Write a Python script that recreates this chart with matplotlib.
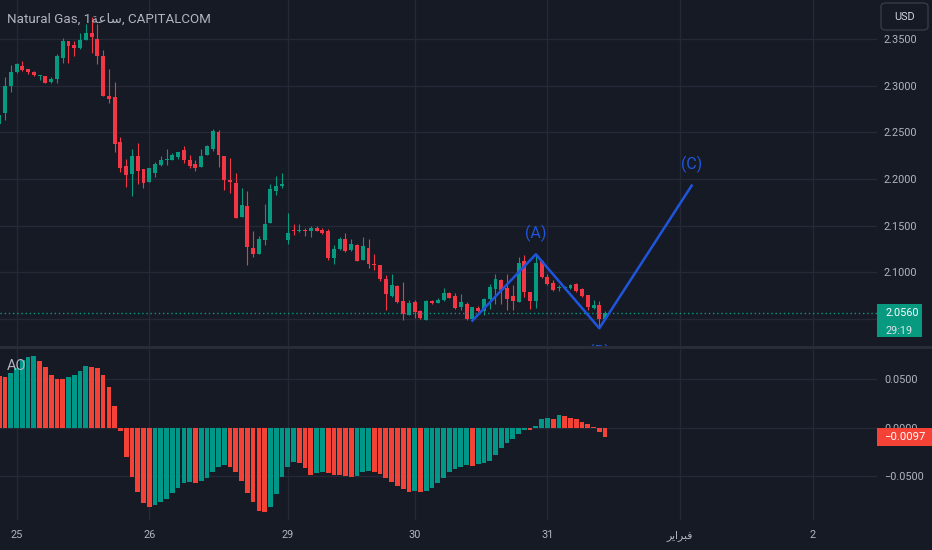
import numpy as np
import matplotlib
matplotlib.use('Agg')
import matplotlib.pyplot as plt
import matplotlib.transforms as mtransforms
from matplotlib.patches import Rectangle, FancyBboxPatch
from matplotlib.lines import Line2D

plt.rcParams['font.family'] = ['Roboto', 'DejaVu Sans']

# Natural Gas, 1h candles (CAPITALCOM)
opens = [2.2594, 2.2702, 2.2999, 2.3142, 2.3207, 2.3174, 2.3146, 2.3103, 2.3103, 2.3035,
         2.3067, 2.3300, 2.3479, 2.3436, 2.3403, 2.3489, 2.3568, 2.3500, 2.3317, 2.2888,
         2.2881, 2.2398, 2.2140, 2.2050, 2.2251, 2.2104, 2.1968, 2.2065, 2.2147, 2.2201,
         2.2208, 2.2237, 2.2308, 2.2208, 2.2158, 2.2129, 2.2254, 2.2326, 2.2505, 2.2247,
         2.1986, 2.1961, 2.1592, 2.1710, 2.1263, 2.1192, 2.1349, 2.1528, 2.1872, 2.1929,
         2.1349, 2.1456, 2.1446, 2.1449, 2.1442, 2.1478, 2.1456, 2.1442, 2.1152, 2.1252,
         2.1360, 2.1242, 2.1288, 2.1127, 2.1263, 2.1084, 2.1073, 2.0930, 2.0751, 2.0852,
         2.0690, 2.0547, 2.0680, 2.0590, 2.0490, 2.0687, 2.0673, 2.0698, 2.0780, 2.0751,
         2.0626, 2.0655, 2.0494, 2.0615, 2.0590, 2.0716, 2.0823, 2.0912, 2.0830, 2.0741,
         2.0680, 2.1116, 2.0787, 2.0687, 2.1116, 2.0948, 2.0887, 2.0830, 2.0830, 2.0830,
         2.0877, 2.0816, 2.0758, 2.0619, 2.0651, 2.0494]
highs = [2.2700, 2.3088, 2.3221, 2.3246, 2.3267, 2.3174, 2.3156, 2.3110, 2.3103, 2.3088,
         2.3335, 2.3514, 2.3479, 2.3479, 2.3568, 2.3661, 2.3739, 2.3661, 2.3382, 2.3178,
         2.3042, 2.2451, 2.2219, 2.2326, 2.2390, 2.2104, 2.2120, 2.2183, 2.2244, 2.2326,
         2.2280, 2.2290, 2.2351, 2.2254, 2.2201, 2.2326, 2.2369, 2.2534, 2.2523, 2.2247,
         2.2229, 2.2068, 2.1904, 2.1868, 2.1442, 2.1385, 2.1736, 2.1950, 2.2029, 2.2068,
         2.1639, 2.1521, 2.1521, 2.1478, 2.1492, 2.1492, 2.1478, 2.1467, 2.1288, 2.1378,
         2.1421, 2.1360, 2.1306, 2.1378, 2.1360, 2.1199, 2.1073, 2.0966, 2.0984, 2.0869,
         2.0894, 2.0698, 2.0698, 2.0597, 2.0698, 2.0705, 2.0726, 2.0830, 2.0794, 2.0776,
         2.0762, 2.0680, 2.0626, 2.0644, 2.0726, 2.0877, 2.0977, 2.0930, 2.0977, 2.0859,
         2.1163, 2.1188, 2.0787, 2.1188, 2.1127, 2.0977, 2.0912, 2.0859, 2.0851, 2.0877,
         2.0884, 2.0830, 2.0758, 2.0698, 2.0687, 2.0590]
lows = [2.2570, 2.2637, 2.2935, 2.3139, 2.3160, 2.3124, 2.3103, 2.3060, 2.3024, 2.3024,
        2.3024, 2.3246, 2.3239, 2.3321, 2.3393, 2.3489, 2.3347, 2.3232, 2.2888, 2.2816,
        2.2290, 2.2076, 2.1914, 2.1818, 2.1950, 2.1904, 2.1968, 2.2022, 2.2136, 2.2147,
        2.2201, 2.2219, 2.2172, 2.2118, 2.2086, 2.2129, 2.2254, 2.2301, 2.2129, 2.1879,
        2.1850, 2.1582, 2.1592, 2.1073, 2.1163, 2.1192, 2.1288, 2.1528, 2.1832, 2.1904,
        2.1306, 2.1403, 2.1431, 2.1385, 2.1378, 2.1442, 2.1413, 2.1127, 2.1084, 2.1234,
        2.1216, 2.1227, 2.1120, 2.1127, 2.1048, 2.1020, 2.0905, 2.0601, 2.0733, 2.0669,
        2.0490, 2.0547, 2.0508, 2.0501, 2.0490, 2.0662, 2.0669, 2.0690, 2.0726, 2.0608,
        2.0597, 2.0490, 2.0483, 2.0572, 2.0537, 2.0608, 2.0662, 2.0662, 2.0597, 2.0597,
        2.0680, 2.0733, 2.0608, 2.0619, 2.0941, 2.0859, 2.0798, 2.0798, 2.0812, 2.0823,
        2.0794, 2.0733, 2.0597, 2.0608, 2.0404, 2.0494]
closes = [2.2684, 2.2999, 2.3142, 2.3232, 2.3167, 2.3142, 2.3113, 2.3110, 2.3031, 2.3067,
          2.3317, 2.3479, 2.3425, 2.3407, 2.3489, 2.3561, 2.3525, 2.3321, 2.2888, 2.2852,
          2.2380, 2.2118, 2.2040, 2.2251, 2.2083, 2.1961, 2.2115, 2.2158, 2.2208, 2.2208,
          2.2262, 2.2290, 2.2208, 2.2140, 2.2122, 2.2247, 2.2351, 2.2516, 2.2254, 2.1986,
          2.1972, 2.1582, 2.1725, 2.1270, 2.1199, 2.1360, 2.1521, 2.1889, 2.1925, 2.1940,
          2.1420, 2.1446, 2.1456, 2.1438, 2.1478, 2.1442, 2.1420, 2.1152, 2.1252, 2.1353,
          2.1227, 2.1299, 2.1120, 2.1277, 2.1084, 2.1073, 2.0930, 2.0762, 2.0859, 2.0680,
          2.0554, 2.0669, 2.0572, 2.0508, 2.0690, 2.0673, 2.0698, 2.0780, 2.0726, 2.0619,
          2.0680, 2.0494, 2.0626, 2.0583, 2.0716, 2.0841, 2.0930, 2.0805, 2.0716, 2.0690,
          2.1102, 2.0794, 2.0687, 2.1102, 2.0948, 2.0877, 2.0805, 2.0841, 2.0841, 2.0869,
          2.0798, 2.0741, 2.0626, 2.0651, 2.0494, 2.0560]

# Awesome Oscillator
ao = [0.0530, 0.0524, 0.0558, 0.0610, 0.0695, 0.0729, 0.0740, 0.0688, 0.0620, 0.0545,
      0.0505, 0.0503, 0.0517, 0.0538, 0.0582, 0.0634, 0.0623, 0.0613, 0.0538, 0.0418,
      0.0226, -0.0031, -0.0298, -0.0503, -0.0664, -0.0777, -0.0812, -0.0795, -0.0760, -0.0733,
      -0.0675, -0.0623, -0.0565, -0.0555, -0.0565, -0.0545, -0.0514, -0.0459, -0.0408, -0.0384,
      -0.0401, -0.0459, -0.0545, -0.0675, -0.0767, -0.0856, -0.0870, -0.0812, -0.0682, -0.0503,
      -0.0408, -0.0349, -0.0366, -0.0418, -0.0486, -0.0462, -0.0452, -0.0462, -0.0486, -0.0488,
      -0.0497, -0.0503, -0.0493, -0.0452, -0.0442, -0.0452, -0.0476, -0.0514, -0.0562, -0.0599,
      -0.0634, -0.0658, -0.0647, -0.0658, -0.0651, -0.0623, -0.0565, -0.0514, -0.0459, -0.0420,
      -0.0405, -0.0385, -0.0390, -0.0373, -0.0366, -0.0339, -0.0281, -0.0212, -0.0161, -0.0120,
      -0.0065, -0.0022, -0.0026, 0.0021, 0.0086, 0.0096, 0.0086, 0.0130, 0.0120, 0.0096,
      0.0086, 0.0062, 0.0041, 0.0010, -0.0045, -0.0097]

# x axis: bar index of each day start; arabic given in presentation forms, visual order
feb = '\ufeae\ufef3\ufe8d\ufeae\ufe92\ufed3'   # فبراير
day_pos = [3, 26, 50, 72, 95, 118, 141]
day_labels = ['25', '26', '29', '30', '31', feb, '2']

# elliott ABC drawing
wave_x = [82, 93, 104, 120]
wave_y = [2.0482, 2.1193, 2.0400, 2.1929]
wave_labels = ['', '(A)', '(B)', '(C)']

price_ticks = [2.05, 2.10, 2.15, 2.20, 2.25, 2.30, 2.35]
ao_ticks = [-0.05, 0.0, 0.05]
countdown = '29:19'
hour = '\ufe94\ufecb\ufe8e\ufeb3'               # ساعة
title = 'Natural Gas, 1' + hour + ', CAPITALCOM'

BG = '#161a25'
GRID = '#252935'
TXT = '#b2b5be'
GREEN = '#089981'
RED = '#f23645'
AO_GREEN = '#009688'
AO_RED = '#f44336'
BLUE = '#1f55dd'

W, H = 932, 550
fig = plt.figure(figsize=(W / 100, H / 100), dpi=100, facecolor=BG)
ax = fig.add_axes([0, 1 - 346 / H, 877 / W, 346 / H])
ax2 = fig.add_axes([0, 30 / H, 877 / W, 172 / H])

x = np.arange(len(opens))
o = np.array(opens)
c = np.array(closes)
cols = np.where(c >= o, GREEN, RED)

for a in (ax, ax2):
    a.set_facecolor(BG)
    for s in a.spines.values():
        s.set_visible(False)
    a.set_xlim(0.133, 152.12)
    a.set_xticks(day_pos)
    a.grid(True, color=GRID, lw=1)
    a.set_axisbelow(True)
    a.yaxis.tick_right()
    a.tick_params(length=0, labelsize=7.8, colors=TXT, pad=5)

# price pane
ax.vlines(x, lows, highs, colors=cols, lw=0.8)
ax.bar(x, np.maximum(np.abs(c - o), 0.0012), bottom=np.minimum(o, c), width=0.68,
       color=cols, lw=0)
ax.set_ylim(2.0210, 2.3918)
ax.set_yticks(price_ticks)
# 2.0500 sits under the last-price tag
ax.set_yticklabels(['' if v < 2.07 else '%.4f' % v for v in price_ticks])
ax.tick_params(labelbottom=False)
ax.axhline(closes[-1], color=GREEN, lw=1, ls=(0, (1, 2)))

ax.plot(wave_x, wave_y, color=BLUE, lw=1.8)
offs = [0, 15, -17, 15]
for wx, wy, lab, dy in zip(wave_x, wave_y, wave_labels, offs):
    if lab:
        ax.annotate(lab, (wx, wy), xytext=(0, dy), textcoords='offset points',
                    ha='center', va='center', color=BLUE, fontsize=11.5, clip_on=True)

# last price label
ppx = (2.3918 - 2.0210) / 346
trp = mtransforms.blended_transform_factory(ax.transAxes, ax.transData)
ax.add_patch(Rectangle((1.0, closes[-1] - 24 * ppx), 45 / 877, 33 * ppx, transform=trp,
                       fc=GREEN, ec='none', clip_on=False, zorder=5))
ax.text(1 + 8 / 877, closes[-1], '%.4f' % closes[-1], transform=trp, color='white',
        fontsize=7.8, va='center', ha='left', zorder=6)
ax.text(1 + 8 / 877, closes[-1] - 18 * ppx, countdown, transform=trp, color='#e0e3eb',
        fontsize=7.8, va='center', ha='left', zorder=6)

# AO pane
a_arr = np.array(ao)
rising = np.diff(a_arr, prepend=a_arr[0]) > 0
ax2.bar(x, a_arr, width=0.82, color=np.where(rising, AO_GREEN, AO_RED), lw=0)
ax2.set_ylim(-0.0948, 0.0819)
ax2.set_yticks(ao_ticks)
ax2.set_yticklabels([('%.4f' % v).replace('-', '\u2212') for v in ao_ticks])
ax2.set_xticklabels(day_labels)
ax2.tick_params(axis='x', pad=7)

ppx2 = (0.0819 + 0.0948) / 172
tra = mtransforms.blended_transform_factory(ax2.transAxes, ax2.transData)
ax2.add_patch(Rectangle((1.0, ao[-1] - 9 * ppx2), 55 / 877, 18 * ppx2, transform=tra,
                        fc=AO_RED, ec='none', clip_on=False, zorder=5))
ax2.text(1 + 7 / 877, ao[-1], ('%.4f' % ao[-1]).replace('-', '\u2212'), transform=tra,
         color='white', fontsize=8.2, va='center', ha='left', zorder=6)

# pane separator, legend texts, currency button
fig.add_artist(Line2D([0, 1], [1 - 347 / H] * 2, transform=fig.transFigure,
                      color='#2a2e39', lw=2))
fig.text(7 / W, 1 - 19 / H, title, color=TXT, fontsize=9.6, va='center', ha='left')
fig.text(7 / W, 1 - 366 / H, 'AO', color=TXT, fontsize=10.5, va='center', ha='left')
fig.patches.append(FancyBboxPatch((881 / W, 1 - 30 / H), 47 / W, 27 / H,
                                  boxstyle='round,pad=0,rounding_size=0.006',
                                  transform=fig.transFigure, fc=BG, ec='#363a45', lw=1))
fig.text(904.5 / W, 1 - 17 / H, 'USD', color='#d1d4dc', fontsize=7.8, va='center',
         ha='center')

fig.savefig('out.png', dpi=100, facecolor=BG)
